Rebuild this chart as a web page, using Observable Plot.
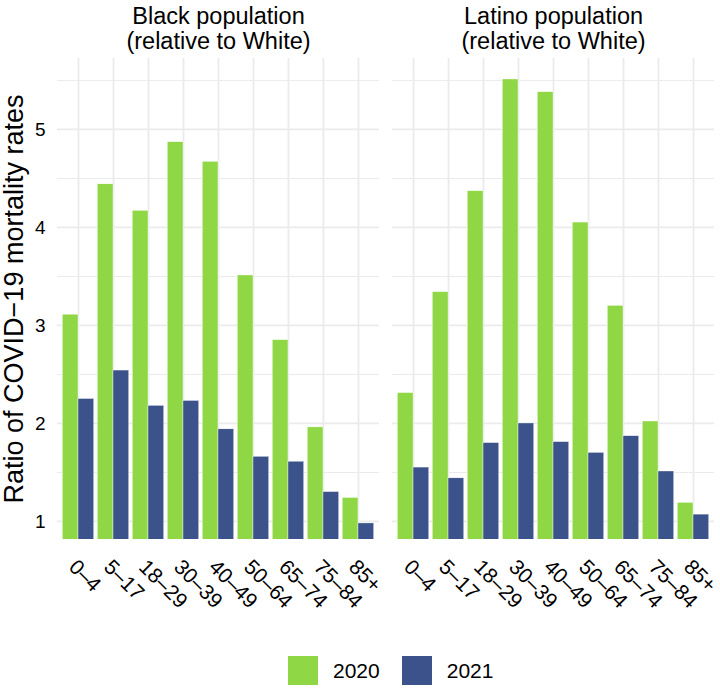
<!DOCTYPE html>
<html><head><meta charset="utf-8">
<script src="https://cdn.jsdelivr.net/npm/d3@7"></script>
<script src="https://cdn.jsdelivr.net/npm/@observablehq/plot@0.6"></script>
<style>
body{margin:0;background:#fff;font-family:"Liberation Sans",Arial,sans-serif;}
#wrap{position:relative;width:720px;height:689px;overflow:hidden;}
#legend{position:absolute;top:656px;left:288px;display:flex;align-items:center;font-size:21px;color:#000;}
.key{width:30px;height:29px;margin-right:15px;}
.lab{margin-right:22px;}
</style></head><body><div id="wrap"><div id="chart"></div><div id="legend"></div></div>
<script>
const ages = ["0–4","5–17","18–29","30–39","40–49","50–64","65–74","75–84","85+"];
const groups = ["Black population\n(relative to White)", "Latino population\n(relative to White)"];
const years = ["2020","2021"];
const black2020 = [3.11,4.44,4.17,4.87,4.67,3.51,2.85,1.96,1.24];
const black2021 = [2.25,2.54,2.18,2.23,1.94,1.66,1.61,1.30,0.98];
const latino2020 = [2.31,3.34,4.37,5.51,5.38,4.05,3.20,2.02,1.19];
const latino2021 = [1.55,1.44,1.80,2.00,1.81,1.70,1.87,1.51,1.07];
const yTicks = [1,2,3,4,5];
const yMinor = [1.5,2.5,3.5,4.5,5.5];
const colors = ["#8FD744","#3B528B"];
const yTitle = "Ratio of COVID−19 mortality rates";

const series = [[groups[0],years[0],black2020],[groups[0],years[1],black2021],[groups[1],years[0],latino2020],[groups[1],years[1],latino2021]];
const rows = [];
for (const [g,yr,vals] of series) vals.forEach((v,i)=>rows.push({group:g, year:yr, age:ages[i], value:v}));

const step = 322/9.2, half = step*0.9/2;
const font = '"Liberation Sans",Arial,sans-serif';
const chart = Plot.plot({
  width:720, height:614,
  marginLeft:57, marginRight:6, marginTop:58, marginBottom:75,
  style:{fontFamily:font, fontSize:"19px", color:"#000", background:"#fff", overflow:"visible"},
  fx:{domain:groups, paddingInner:0.039, paddingOuter:0, label:null, round:false},
  x:{domain:ages, paddingInner:0.1, paddingOuter:0.15, label:null, round:false, axis:null},
  y:{domain:[0.816,5.724], label:null},
  color:{domain:years, range:colors},
  marks:[
    Plot.ruleY(yMinor, {stroke:"#EBEBEB", strokeWidth:1}),
    Plot.ruleY(yTicks, {stroke:"#EBEBEB", strokeWidth:1.8}),
    Plot.gridX({stroke:"#EBEBEB", strokeOpacity:1, strokeWidth:1.8}),
    Plot.barY(rows.filter(d=>d.year===years[0]), {fx:"group", x:"age", y1:0, y2:"value", fill:"year", insetRight:half, stroke:"#fff", strokeWidth:0.4, clip:true}),
    Plot.barY(rows.filter(d=>d.year===years[1]), {fx:"group", x:"age", y1:0, y2:"value", fill:"year", insetLeft:half, stroke:"#fff", strokeWidth:0.4, clip:true}),
    Plot.axisY({ticks:yTicks, tickFormat:d=>String(d), tickSize:0, tickPadding:12, fontSize:19, label:yTitle, labelAnchor:"center", labelArrow:"none", labelOffset:54}),
    Plot.text(ages, {x:d=>d, frameAnchor:"bottom", dy:24, dx:-6, rotate:45, textAnchor:"start", lineAnchor:"middle", fontSize:21, fill:"#000"}),
    Plot.axisFx({anchor:"top", tickSize:0, tickPadding:10, fontSize:23.5, lineHeight:1.03, label:null})
  ]
});
document.getElementById("chart").appendChild(chart);
d3.select(chart).selectAll("[aria-label='y-axis label'] text").style("font-size","27px");

const lg = d3.select("#legend");
years.forEach((yr,i)=>{
  lg.append("div").attr("class","key").style("background",colors[i]);
  lg.append("div").attr("class","lab").text(yr);
});
</script></body></html>
